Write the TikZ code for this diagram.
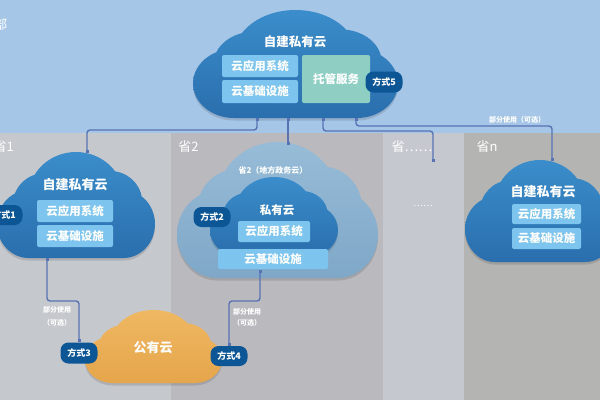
\documentclass[tikz,border=0pt]{standalone}
\usepackage{fontspec}
\setmainfont{Noto Sans CJK SC}
\usetikzlibrary{arrows.meta}
\definecolor{band}{HTML}{A6C6E7}
\definecolor{colA}{HTML}{C5C8CD}
\definecolor{colB}{HTML}{BAB9BE}
\definecolor{colC}{HTML}{C5C8CE}
\definecolor{colD}{HTML}{B4B5B2}
\definecolor{cltop}{HTML}{3B8DCB}
\definecolor{clbot}{HTML}{2A6EAD}
\definecolor{pltop}{HTML}{97BCD8}
\definecolor{plbot}{HTML}{7FA7C7}
\definecolor{ortop}{HTML}{EFB862}
\definecolor{orbot}{HTML}{E5A54B}
\definecolor{boxblue}{HTML}{7DC4EF}
\definecolor{teal}{HTML}{8FCFC3}
\definecolor{badgec}{HTML}{0D5696}
\definecolor{linec}{HTML}{5873B4}
\newcommand\cloudp[1]{#1 (0.2,0.32) ellipse [x radius=0.2,y radius=0.32] (0.8,0.32) ellipse [x radius=0.2,y radius=0.32] (0.2,0) -- (0.8,0) -- (0.8,0.5) -- (0.2,0.5) -- cycle (0.5,0.58) ellipse [x radius=0.3,y radius=0.42] (0.3,0.5) ellipse [x radius=0.2,y radius=0.3] (0.72,0.52) ellipse [x radius=0.2,y radius=0.3];}
\newcommand\drawcloud[6]{%
 \begin{scope}[shift={(#1,#2+#4+2.5)},xscale=#3,yscale=-#4]
  \cloudp{\fill[black,opacity=0.12]}
 \end{scope}
 \begin{scope}[shift={(#1,#2+#4)},xscale=#3,yscale=-#4]
  \cloudp{\shade[top color=#5,bottom color=#6]}
 \end{scope}}
\tikzset{
 ttl/.style={text=white,inner sep=0,font=\bfseries\fontsize{12.5}{14}\selectfont},
 hdr/.style={text=white,inner sep=0,font=\fontsize{13}{15}\selectfont},
 bbox/.style={fill=boxblue,rounded corners=2pt,text=white,inner sep=0,font=\bfseries\fontsize{11.5}{13}\selectfont},
 tbox/.style={fill=teal,rounded corners=2pt,text=white,inner sep=0,font=\bfseries\fontsize{11.5}{13}\selectfont},
 badge/.style={fill=badgec,rounded corners=8pt,text=white,inner sep=0,minimum width=37pt,minimum height=21pt,font=\bfseries\fontsize{9}{10}\selectfont},
 lab/.style={text=white,inner sep=0,font=\bfseries\fontsize{7}{8}\selectfont},
 conn/.style={draw=linec,line width=1.4pt,rounded corners=3pt,{Square[length=3pt,width=3pt]}-{Square[length=3pt,width=3pt]}}
}
\begin{document}
\begin{tikzpicture}[x=1pt,y=-1pt]
\useasboundingbox (0,0) rectangle (600,400);
\clip (0,0) rectangle (600,400);
% background
\fill[band] (0,0) rectangle (600,133);
\fill[colA] (0,133) rectangle (171,400);
\fill[colB] (171,133) rectangle (383,400);
\fill[colC] (383,133) rectangle (464,400);
\fill[colD] (464,133) rectangle (600,400);
\node[hdr,anchor=east] (hq) at (7.5,25) {部};
\node[hdr,anchor=east] (h1) at (14,147) {省1};
\node[hdr] (h2) at (188.5,147) {省2};
\node[hdr] (h3) at (412,147) {省……};
\node[hdr] (h4) at (487,147) {省n};
\node[lab,font=\fontsize{9}{10}\selectfont] (dots) at (423,206) {……};
% top cloud
\drawcloud{193}{10}{205}{108}{cltop}{clbot}
\node[ttl] (t0) at (295,42) {自建私有云};
\node[bbox,minimum width=76pt,minimum height=22pt] (ta) at (260,66) {云应用系统};
\node[bbox,minimum width=76pt,minimum height=23pt] (tb) at (260,91.5) {云基础设施};
\node[tbox,minimum width=68pt,minimum height=48pt] (tc) at (336,79) {托管服务};
\node[badge] (b5) at (384,82) {方式5};
% province 1 cloud
\drawcloud{-3}{152}{158}{106}{cltop}{clbot}
\node[ttl,font=\bfseries\fontsize{13}{15}\selectfont] (t1) at (75,185) {自建私有云};
\node[bbox,minimum width=76pt,minimum height=22pt] (p1a) at (75,211) {云应用系统};
\node[bbox,minimum width=76pt,minimum height=22pt] (p1b) at (75,236) {云基础设施};
\node[badge,minimum height=20pt] (b1) at (4,215) {方式1};
% province 2 cloud
\drawcloud{177}{142}{201}{136}{pltop}{plbot}
\node[lab,font=\bfseries\fontsize{8}{9}\selectfont] (g2) at (273,170) {省2（地方政务云）};
\drawcloud{210}{177}{128}{78}{cltop}{clbot}
\node[ttl,font=\bfseries\fontsize{11.5}{13}\selectfont] (t2) at (277,210) {私有云};
\node[bbox,minimum width=72pt,minimum height=21pt] (p2a) at (274,231.5) {云应用系统};
\node[bbox,minimum width=110pt,minimum height=20pt] (p2b) at (273,259) {云基础设施};
\node[badge,minimum height=20pt] (b2) at (212,217) {方式2};
% province n cloud
\drawcloud{465}{160}{150}{102}{cltop}{clbot}
\node[ttl,font=\bfseries\fontsize{13}{15}\selectfont] (tn) at (543,192) {自建私有云};
\node[bbox,minimum width=69pt,minimum height=20pt] (pna) at (546.5,214) {云应用系统};
\node[bbox,minimum width=69pt,minimum height=21pt] (pnb) at (546.5,238.5) {云基础设施};
% public cloud
\drawcloud{85}{310}{137}{73}{ortop}{orbot}
\node[ttl,font=\bfseries\fontsize{13}{15}\selectfont] (pub) at (153,348) {公有云};
\node[badge] (b3) at (79,353) {方式3};
\node[badge,minimum height=20pt] (b4) at (229,356) {方式4};
% connector anchors
\coordinate (s1) at (257,118);
\coordinate (s2) at (288,118);
\coordinate (s3) at (323,118);
\coordinate (s4) at (356,118);
\coordinate (c1t) at (87,153);
\coordinate (c2t) at (288,145);
\coordinate (c3t) at (433,162);
\coordinate (cnt) at (552,161);
\coordinate (c1b) at (47,258);
\coordinate (c2b) at (260,270);
% connectors
\draw[conn] (s1) -- ++(0,12) -| (c1t);
\draw[conn] (s2) -- (c2t);
\draw[conn] (s3) -- ++(0,13) -| (c3t);
\draw[conn] (s4) -- ++(0,8) -| (cnt);
\draw[conn] (c1b) -- ++(0,43) -| (b3.north);
\draw[conn] (c2b) -- ++(0,31) -| (b4.north);
% labels
\node[lab] (l4) at (517,120) {部分使用（可选）};
\node[lab] (l5a) at (57,310) {部分使用};
\node[lab] (l5b) at (57,323) {（可选）};
\node[lab] (l6a) at (247,312) {部分使用};
\node[lab] (l6b) at (247,323) {（可选）};
\end{tikzpicture}
\end{document}
